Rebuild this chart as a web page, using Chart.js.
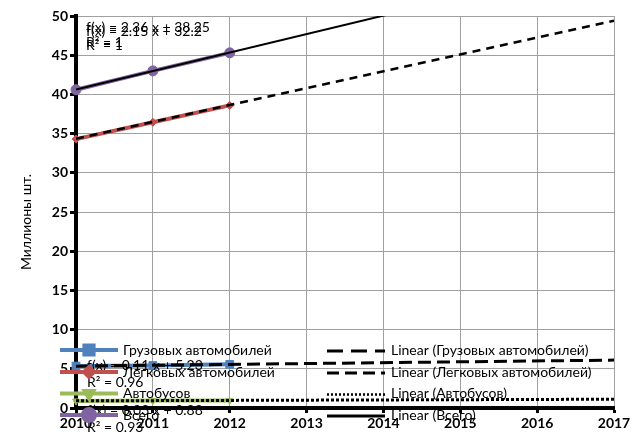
<!DOCTYPE html>
<html>
<head>
<meta charset="utf-8">
<script src="https://cdn.jsdelivr.net/npm/chart.js@4/dist/chart.umd.min.js"></script>
<style>
html,body{margin:0;padding:0;background:#fff;}
#wrap{width:643px;height:442px;position:relative;}
</style>
</head>
<body>
<div id="wrap"><canvas id="c" width="643" height="442"></canvas></div>
<script>
// ---- data ----
const years = [2010, 2011, 2012];
const trucks = [5.35, 5.42, 5.57];
const cars = [34.3, 36.45, 38.6];
const buses = [0.90, 0.95, 0.96];
const total = [40.6, 43.0, 45.3];

const trendYears = [2010, 2017];
const trendTrucks = [5.34, 6.11];
const trendCars = [34.35, 49.4];
const trendBuses = [0.91, 1.12];
const trendTotal = [40.61, 57.13];

const seriesNames = ['Грузовых автомобилей', 'Легковых автомобилей', 'Автобусов', 'Всего'];
const trendNames = ['Linear (Грузовых автомобилей)', 'Linear (Легковых автомобилей)', 'Linear (Автобусов)', 'Linear (Всего)'];
const equations = ['f(x) = 2.36 x + 38.25', 'f(x) = 2.15 x + 32.2', 'R² = 1', 'R² = 1',
                   'f(x) = 0.11 x + 5.23', 'R² = 0.96', 'f(x) = 0.03 x + 0.88', 'R² = 0.93'];
const yTitle = 'Миллионы шт.';
const xMin = 2010, xMax = 2017, yMin = 0, yMax = 50, yStep = 5;

const FONT = 'Lato, Carlito, "DejaVu Sans", sans-serif';
const colors = ['#4f81bd', '#c0504d', '#9bbb59', '#8064a2'];

function pts(xs, ys){ return xs.map((x,i)=>({x:x, y:ys[i]})); }

const trendStyles = [
  {dash:[13,6], width:3},
  {dash:[8,6], width:2.5},
  {dash:[3,2], width:3},
  {dash:[], width:2}
];
const legendTrendStyles = [
  {dash:[16,8], width:3},
  {dash:[12,6], width:3},
  {dash:[2,2], width:2.5},
  {dash:[], width:3}
];
const pStyles = [
  {style:'rect', r:5.5, rot:0},
  {style:'rectRot', r:4, rot:0},
  {style:'triangle', r:4, rot:180},
  {style:'circle', r:5, rot:0}
];

const trendData = [trendTrucks, trendCars, trendBuses, trendTotal];
const seriesData = [trucks, cars, buses, total];

const datasets = [];
trendData.forEach((t,i)=>{
  datasets.push({
    label: trendNames[i],
    data: pts(trendYears, t),
    borderColor:'#000',
    borderWidth: trendStyles[i].width,
    borderDash: trendStyles[i].dash,
    pointRadius:0,
    fill:false,
    tension:0,
    clip:0
  });
});
seriesData.forEach((s,i)=>{
  datasets.push({
    label: seriesNames[i],
    data: pts(years, s),
    borderColor: colors[i],
    backgroundColor: colors[i],
    borderWidth: 4,
    pointStyle: pStyles[i].style,
    pointRadius: pStyles[i].r,
    pointRotation: pStyles[i].rot,
    pointBorderWidth: 1,
    fill:false,
    tension:0,
    clip:false
  });
});

const overlay = {
  id:'overlay',
  afterDraw(chart){
    const ctx = chart.ctx;
    ctx.save();
    // y title
    ctx.save();
    ctx.translate(26, 222);
    ctx.rotate(-Math.PI/2);
    ctx.fillStyle = '#000';
    ctx.font = '14px ' + FONT;
    ctx.textAlign = 'center';
    ctx.textBaseline = 'middle';
    ctx.fillText(yTitle, 0, 0);
    ctx.restore();
    // equations
    ctx.fillStyle = '#000';
    ctx.font = '14px ' + FONT;
    ctx.textBaseline = 'middle';
    ctx.textAlign = 'left';
    const eqPos = [[86,27],[86,31],[86,42],[86,45],[87,365],[87,382],[87,410],[87,427]];
    equations.forEach((e,i)=>ctx.fillText(e, eqPos[i][0], eqPos[i][1]));
    // legend
    const rowsY = [350, 372, 393.5, 415];
    ctx.font = '14px ' + FONT;
    for(let i=0;i<4;i++){
      const y = rowsY[i];
      ctx.setLineDash([]);
      ctx.strokeStyle = colors[i];
      ctx.lineWidth = 4;
      ctx.beginPath(); ctx.moveTo(60,y); ctx.lineTo(118,y); ctx.stroke();
      ctx.fillStyle = colors[i];
      Chart.helpers.drawPoint(ctx, {pointStyle:pStyles[i].style, rotation:pStyles[i].rot, radius:pStyles[i].r+1, borderWidth:1}, 89, y);
      ctx.fillStyle = '#000';
      ctx.fillText(seriesNames[i], 123, y);
      // trend legend
      ctx.strokeStyle = '#000';
      ctx.lineWidth = legendTrendStyles[i].width;
      ctx.setLineDash(legendTrendStyles[i].dash);
      ctx.beginPath(); ctx.moveTo(327,y+1); ctx.lineTo(385,y+1); ctx.stroke();
      ctx.setLineDash([]);
      ctx.fillText(trendNames[i], 391, y);
    }
    ctx.restore();
  }
};

new Chart(document.getElementById('c'), {
  type:'line',
  data:{datasets:datasets},
  options:{
    responsive:false,
    animation:false,
    layout:{padding:{top:16, right:29, left:0, bottom:0}},
    plugins:{legend:{display:false}, tooltip:{enabled:false}},
    scales:{
      x:{
        type:'linear', min:xMin, max:xMax,
        afterFit(s){ s.height = 34; },
        ticks:{stepSize:1, color:'#000', font:{family:FONT, size:14, weight:'bold'}, padding:2,
               callback:v=>String(v), maxRotation:0, autoSkip:false},
        grid:{color:'#a0a0a0', lineWidth:1, tickColor:'#000', tickLength:5, tickWidth:3},
        border:{color:'#000', width:4}
      },
      y:{
        min:yMin, max:yMax,
        afterFit(s){ s.width = 76; },
        ticks:{stepSize:yStep, color:'#000', font:{family:FONT, size:14, weight:'bold'}, padding:2},
        grid:{color:'#a0a0a0', lineWidth:1, tickColor:'#000', tickLength:6, tickWidth:3},
        border:{color:'#000', width:4},
        title:{display:false}
      }
    }
  },
  plugins:[overlay]
});
</script>
</body>
</html>
